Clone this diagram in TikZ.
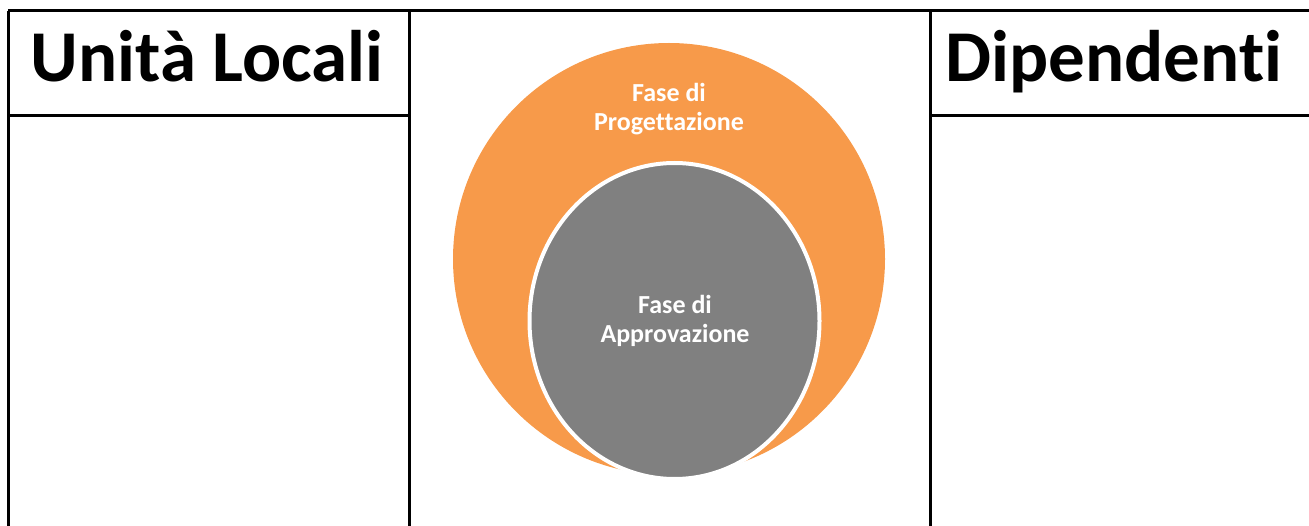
\documentclass[tikz,border=0pt]{standalone}
\usepackage{fontspec}
\setmainfont{Carlito}[Ligatures={NoCommon}]
\usetikzlibrary{shapes.geometric}
\definecolor{orangefill}{HTML}{F79A4A}
\definecolor{grayfill}{HTML}{808080}
\tikzset{
  x=1pt, y=-1pt,
  rule/.style={line width=3pt, black},
  header/.style={font=\fontsize{73}{80}\selectfont\bfseries, inner sep=0pt, anchor=base},
  phase/.style={font=\fontsize{26}{29}\selectfont\bfseries, text=white, align=center, inner sep=0pt, anchor=base},
}
\begin{document}
\begin{tikzpicture}
\useasboundingbox (0,0) rectangle (1309,526);
% table rules
\coordinate (tl) at (8,11);
\coordinate (tr) at (1309,11);
\coordinate (bl) at (8,526);
\coordinate (m1t) at (409,11);
\coordinate (m1b) at (409,526);
\coordinate (m2t) at (930,11);
\coordinate (m2b) at (930,526);
\coordinate (h1l) at (8,116);
\coordinate (h1r) at (409,116);
\coordinate (h2l) at (930,116);
\coordinate (h2r) at (1309,116);
\draw[rule] (tl) -- (tr);
\draw[rule] (tl) -- (bl);
\draw[rule] (m1t) -- (m1b);
\draw[rule] (m2t) -- (m2b);
\draw[rule] (h1l) -- (h1r);
\draw[rule] (h2l) -- (h2r);
% headers
\node[header] (hl) at (207,82) {Unità Locali};
\node[header] (hr) at (1114,82) {Dipendenti};
% circles
\node[circle, fill=orangefill, minimum size=432pt, inner sep=0pt] (outer) at (669,259) {};
\node[ellipse, fill=grayfill, draw=white, line width=4pt, minimum width=290pt, minimum height=316pt, inner sep=0pt] (inner) at (674.5,321) {};
\node[phase] (t1) at (669,131) {Fase di\\Progettazione};
\node[phase] (t2) at (675,343) {Fase di\\Approvazione};
\end{tikzpicture}
\end{document}
